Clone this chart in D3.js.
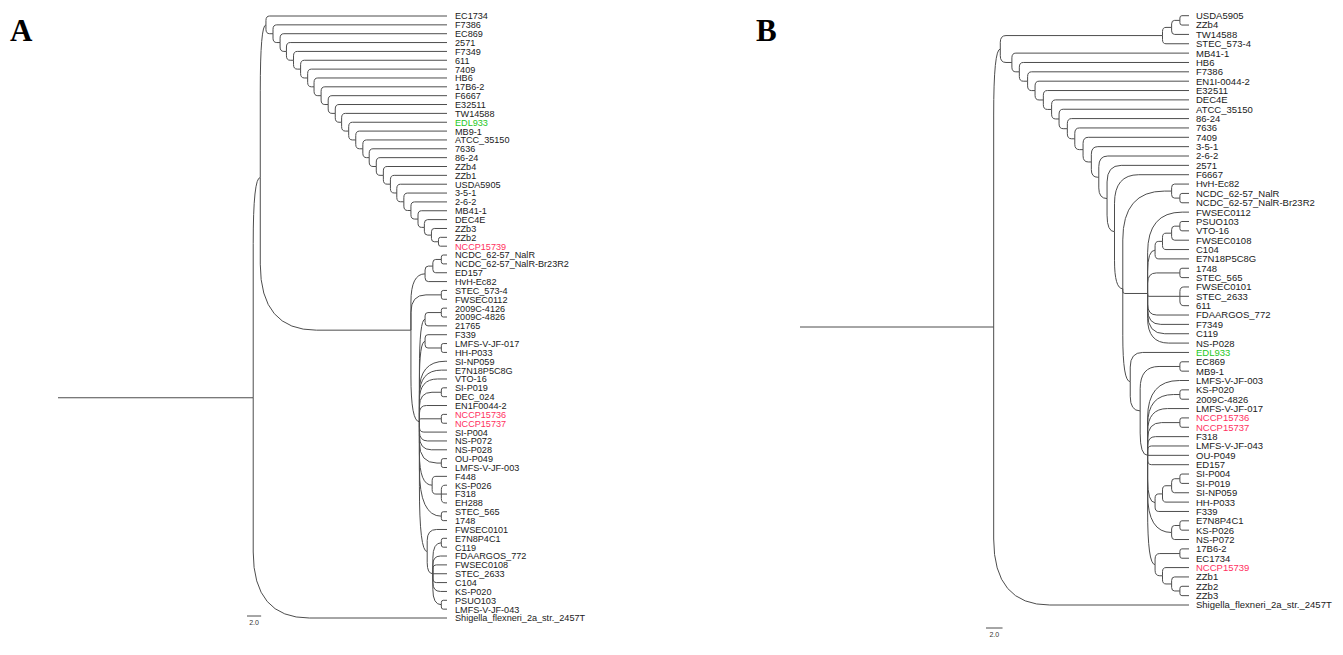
<!DOCTYPE html>
<html>
<head>
<meta charset="utf-8">
<script src="https://cdn.jsdelivr.net/npm/d3@7"></script>
<style>
body { margin: 0; background: #fff; }
</style>
</head>
<body>
<script>
let width = 1343;
let height = 655;

// highlighted strains
const greenLabels = ["EDL933"];
const redLabels = ["NCCP15739", "NCCP15736", "NCCP15737"];

// ---------- panel A data (node depth in tree units, leaves are names) ----------
const ladderLeavesA = ["EC1734","F7386","EC869","2571","F7349","611","7409","HB6","17B6-2","F6667",
    "E32511","TW14588","EDL933","MB9-1","ATCC_35150","7636","86-24","ZZb4","ZZb1","USDA5905",
    "3-5-1","2-6-2","MB41-1","DEC4E","ZZb3","ZZb2","NCCP15739"];
const ladderDepthsA = [29.4,30.4,31.4,32.3,33.3,34.3,35.3,36.2,37.2,38.2,39.2,40.1,41.1,
    42.1,43.1,44.0,45.0,46.0,47.0,47.9,48.9,49.9,50.9,51.8,52.8,53.8];
const groupA1 = [51.9, [53.0, [54.2, "NCDC_62-57_NalR", "NCDC_62-57_NalR-Br23R2"], "ED157"], "HvH-Ec82"];
const groupA2 = [54.2, "STEC_573-4", "FWSEC0112"];
const groupA3 = [51.1,
    [51.9, [54.2, "2009C-4126", "2009C-4826"], "21765"],
    [51.9, "F339", [54.2, "LMFS-V-JF-017", "HH-P033"]],
    "SI-NP059", "E7N18P5C8G", "VTO-16",
    [54.2, "SI-P019", "DEC_024"],
    "EN1F0044-2",
    [54.2, "NCCP15736", "NCCP15737"],
    "SI-P004", "NS-P072", "NS-P028",
    [54.2, "OU-P049", "LMFS-V-JF-003"],
    [52.9, "F448", [54.2, "KS-P026", "F318", "EH288"]],
    [54.2, "STEC_565", "1748"],
    [52.2, "FWSEC0101", [53.0, [54.2, "E7N8P4C1", "C119"], "FDAARGOS_772", "FWSEC0108",
        "STEC_2633", "C104", "KS-P020", [54.2, "PSUO103", "LMFS-V-JF-043"]]]
];
const lowerCladeDepthA = 49.9;
const innerDepthA = 28.6;
const rootChildDepthA = 27.6;
const tipDepthA = 55;
const outgroup = "Shigella_flexneri_2a_str._2457T";

// ---------- panel B data ----------
const topGroupB = [43.8, [44.9, [45.9, "USDA5905", "ZZb4"], "TW14588"], "STEC_573-4"];
const ladderLeavesB = ["MB41-1","HB6","F7386","EN1I-0044-2","E32511","DEC4E","ATCC_35150",
    "86-24","7636","7409","3-5-1","2-6-2","2571","F6667"];
const ladderDepthsB = [25.6,26.5,27.5,28.4,29.4,30.4,31.3,32.3,33.2,34.2,35.2,36.1,37.1,38.0];
const groupB1 = [44.9, "HvH-Ec82", [45.9, "NCDC_62-57_NalR", "NCDC_62-57_NalR-Br23R2"]];
const groupB2 = [42.0, "FWSEC0112",
    [42.9, [43.8, [44.9, [45.9, "PSUO103", "VTO-16"], "FWSEC0108"], "C104"], "E7N18P5C8G"],
    [45.9, "1748", "STEC_565"],
    [45.9, "FWSEC0101", "STEC_2633", "611"],
    "FDAARGOS_772", "F7349", "C119", "NS-P028"];
const groupB3 = [39.9, "EDL933", [41.1, [45.9, "EC869", "MB9-1"],
    [42.0, "LMFS-V-JF-003", [45.9, "KS-P020", "2009C-4826"], "LMFS-V-JF-017",
        [45.9, "NCCP15736", "NCCP15737"], "F318", "LMFS-V-JF-043", "OU-P049", "ED157",
        [42.9, [43.8, [44.9, [45.9, "SI-P004", "SI-P019"], "SI-NP059"], "HH-P033"], "F339"],
        [44.9, [45.9, "E7N8P4C1", "KS-P026"], "NS-P072"],
        [42.9, [45.9, "17B6-2", "EC1734"], [43.8, "NCCP15739", [44.9, "ZZb1", [45.9, "ZZb2", "ZZb3"]]]]
    ]]];
const splitDepthB = 39.0;
const innerDepthB = 24.2;
const rootChildDepthB = 23.4;
const tipDepthB = 47;

// build ladders from the arrays
let ladderA = ladderLeavesA[ladderLeavesA.length - 1];
for (let i = ladderDepthsA.length - 1; i >= 0; i--) {
    ladderA = [ladderDepthsA[i], ladderLeavesA[i], ladderA];
}
let treeA = [rootChildDepthA, [innerDepthA, ladderA, [lowerCladeDepthA, groupA1, groupA2, groupA3]], outgroup];

let ladderB = [splitDepthB, groupB1, groupB2, groupB3];
for (let i = ladderDepthsB.length - 1; i >= 0; i--) {
    ladderB = [ladderDepthsB[i], ladderLeavesB[i], ladderB];
}
let treeB = [rootChildDepthB, [innerDepthB, topGroupB, ladderB], outgroup];

let svg = d3.select("body").append("svg")
    .attr("width", width)
    .attr("height", height);
svg.append("rect").attr("width", width).attr("height", height).attr("fill", "white");

// elbow with a rounded corner, like the curved rectilinear tree view
function linkPath(px, py, cx, cy) {
    let dy = cy - py;
    let dx = cx - px;
    if (Math.abs(dy) < 0.5) return "M" + px + "," + cy + "H" + cx;
    let s = Math.sign(dy);
    let ry = Math.min(Math.abs(dy) * 0.5, 66);
    let rx = Math.min(ry * 0.85, dx);
    return "M" + px + "," + py + "V" + (cy - s * ry) +
        "Q" + px + "," + cy + " " + (px + rx) + "," + cy + "H" + cx;
}

function drawTree(tree, opt) {
    let g = svg.append("g").attr("class", "tree");
    let root = d3.hierarchy(tree, function(d){
        return Array.isArray(d) ? d.slice(1) : null;
    });
    let leaves = root.leaves();
    let x = d3.scaleLinear().domain([0, opt.tip]).range([opt.x0, opt.x1]);
    let y = d3.scaleLinear().domain([0, leaves.length - 1]).range([opt.y0, opt.y1]);
    leaves.forEach(function(d, i){ d.py = y(i); });
    root.eachAfter(function(d){
        d.px = x(Array.isArray(d.data) ? d.data[0] : opt.tip);
        if (d.children) d.py = d3.mean(d.children, function(c){ return c.py; });
    });

    g.append("line")
        .attr("x1", x(0)).attr("x2", root.px)
        .attr("y1", root.py).attr("y2", root.py)
        .attr("stroke", "#4d4d4d").attr("stroke-width", 1);

    g.selectAll("path.branch")
        .data(root.descendants().filter(function(d){ return d.parent; }))
        .enter()
        .append("path")
            .attr("class", "branch")
            .attr("d", function(d){ return linkPath(d.parent.px, d.parent.py, d.px, d.py); })
            .attr("fill", "none")
            .attr("stroke", "#4d4d4d")
            .attr("stroke-width", 1);

    g.selectAll("text.label")
        .data(leaves)
        .enter()
        .append("text")
            .attr("class", "label")
            .attr("transform", function(d){
                return "translate(" + opt.labelX + "," + d.py + ") scale(" + opt.sx + ",1)";
            })
            .attr("dy", "0.36em")
            .attr("font-family", "'Liberation Sans', Arial, sans-serif")
            .attr("font-size", 9.5)
            .attr("fill", function(d){
                if (greenLabels.indexOf(d.data) >= 0) return "#1ec81e";
                if (redLabels.indexOf(d.data) >= 0) return "#ff3060";
                return "#1a1a1a";
            })
            .text(function(d){ return d.data; });

    // scale bar: 2.0 units
    let bx = opt.barX;
    let bw = x(2) - x(0);
    g.append("line")
        .attr("x1", bx).attr("x2", bx + bw)
        .attr("y1", opt.barY).attr("y2", opt.barY)
        .attr("stroke", "#4d4d4d").attr("stroke-width", 1);
    g.append("text")
        .attr("x", bx + bw / 2).attr("y", opt.barY + 9)
        .attr("text-anchor", "middle")
        .attr("font-family", "'Liberation Sans', Arial, sans-serif")
        .attr("font-size", 7)
        .attr("fill", "#333")
        .text("2.0");

    svg.append("text")
        .attr("x", opt.letterX).attr("y", 41)
        .attr("font-family", "'Liberation Serif', 'Times New Roman', serif")
        .attr("font-weight", "bold")
        .attr("font-size", 31)
        .attr("fill", "#000")
        .text(opt.letter);
}

drawTree(treeA, {x0: 58, x1: 447, tip: tipDepthA, y0: 16, y1: 618, labelX: 455, sx: 0.96,
    barX: 247, barY: 616, letter: "A", letterX: 10});
drawTree(treeB, {x0: 800, x1: 1189, tip: tipDepthB, y0: 15.7, y1: 605, labelX: 1196, sx: 1.0,
    barX: 986, barY: 628, letter: "B", letterX: 756});
</script>
</body>
</html>
